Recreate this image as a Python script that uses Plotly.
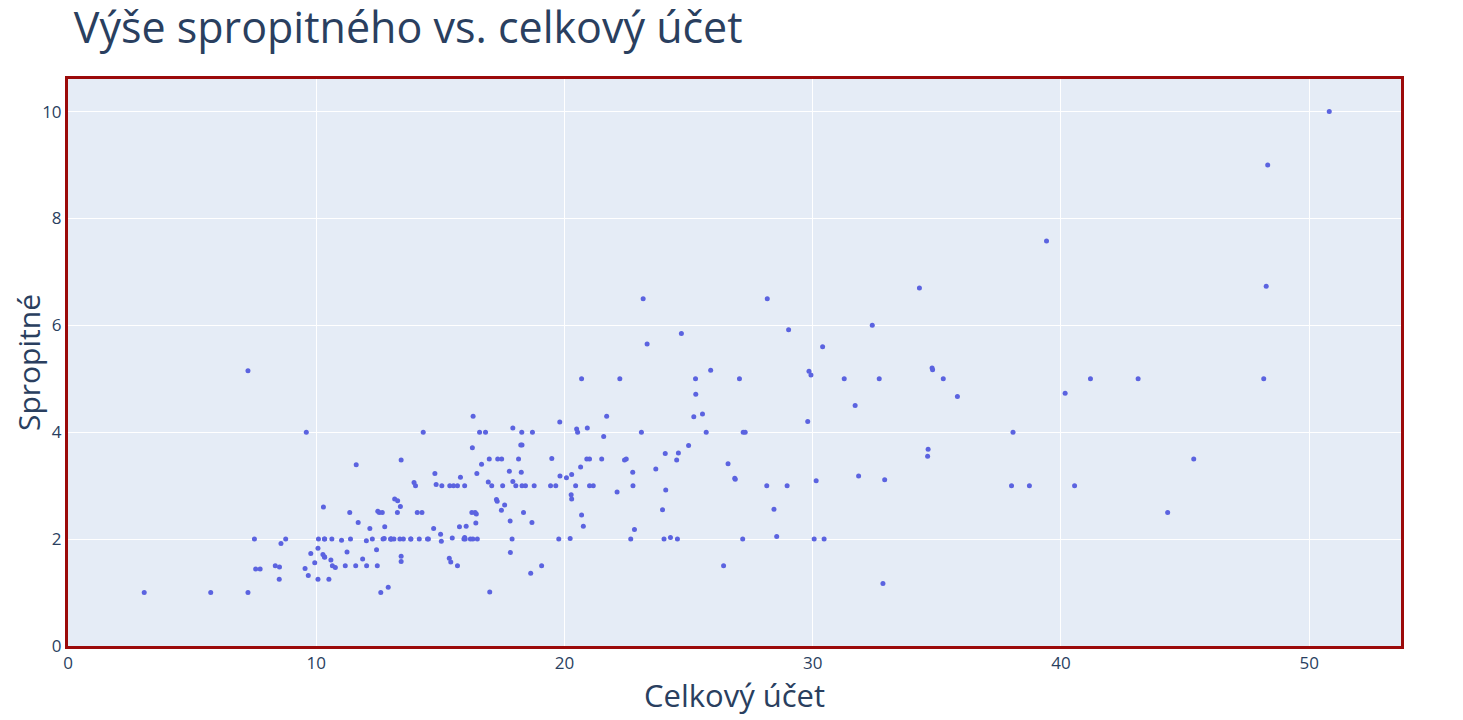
import plotly.graph_objects as go

# tips dataset: total bill and tip
total_bill = [16.99, 10.34, 21.01, 23.68, 24.59, 25.29, 8.77, 26.88, 15.04, 14.78,
              10.27, 35.26, 15.42, 18.43, 14.83, 21.58, 10.33, 16.29, 16.97, 20.65,
              17.92, 20.29, 15.77, 39.42, 19.82, 17.81, 13.37, 12.69, 21.70, 19.65,
              9.55, 18.35, 15.06, 20.69, 17.78, 24.06, 16.31, 16.93, 18.69, 31.27,
              16.04, 17.46, 13.94, 9.68, 30.40, 18.29, 22.23, 32.40, 28.55, 18.04,
              12.54, 10.29, 34.81, 9.94, 25.56, 19.49, 38.01, 26.41, 11.24, 48.27,
              20.29, 13.81, 11.02, 18.29, 17.59, 20.08, 16.45, 3.07, 20.23, 15.01,
              12.02, 17.07, 26.86, 25.28, 14.73, 10.51, 17.92, 27.20, 22.76, 17.29,
              19.44, 16.66, 10.07, 32.68, 15.98, 34.83, 13.03, 18.28, 24.71, 21.16,
              28.97, 22.49, 5.75, 16.32, 22.75, 40.17, 27.28, 12.03, 21.01, 12.46,
              11.35, 15.38, 44.30, 22.42, 20.92, 15.36, 20.49, 25.21, 18.24, 14.31,
              14.00, 7.25, 38.07, 23.95, 25.71, 17.31, 29.93, 10.65, 12.43, 24.08,
              11.69, 13.42, 14.26, 15.95, 12.48, 29.80, 8.52, 14.52, 11.38, 22.82,
              19.08, 20.27, 11.17, 12.26, 18.26, 8.51, 10.33, 14.15, 16.00, 13.16,
              17.47, 34.30, 41.19, 27.05, 16.43, 8.35, 18.64, 11.87, 9.78, 7.51,
              14.07, 13.13, 17.26, 24.55, 19.77, 29.85, 48.17, 25.00, 13.39, 16.49,
              21.50, 12.66, 16.21, 13.81, 17.51, 24.52, 20.76, 31.71, 10.59, 10.63,
              50.81, 15.81, 7.25, 31.85, 16.82, 32.90, 17.89, 14.48, 9.60, 34.63,
              34.65, 23.33, 45.35, 23.17, 40.55, 20.69, 20.90, 30.46, 18.15, 23.10,
              15.69, 19.81, 28.44, 15.48, 16.58, 7.56, 10.34, 43.11, 13.00, 13.51,
              18.71, 12.74, 13.00, 16.40, 20.53, 16.47, 26.59, 38.73, 24.27, 12.76,
              30.06, 25.89, 48.33, 13.27, 28.17, 12.90, 28.15, 11.59, 7.74, 30.14,
              12.16, 13.42, 8.58, 15.98, 13.42, 16.27, 10.09, 20.45, 13.28, 22.12,
              24.01, 15.69, 11.61, 10.77, 15.53, 10.07, 12.60, 32.83, 35.83, 29.03,
              27.18, 22.67, 17.82, 18.78]

tip = [1.01, 1.66, 3.50, 3.31, 3.61, 4.71, 2.00, 3.12, 1.96, 3.23,
       1.71, 5.00, 1.57, 3.00, 3.02, 3.92, 1.67, 3.71, 3.50, 3.35,
       4.08, 2.75, 2.23, 7.58, 3.18, 2.34, 2.00, 2.00, 4.30, 3.00,
       1.45, 2.50, 3.00, 2.45, 3.27, 3.60, 2.00, 3.07, 2.31, 5.00,
       2.24, 2.54, 3.06, 1.32, 5.60, 3.00, 5.00, 6.00, 2.05, 3.00,
       2.50, 2.60, 5.20, 1.56, 4.34, 3.51, 3.00, 1.50, 1.76, 6.73,
       3.21, 2.00, 1.98, 3.76, 2.64, 3.15, 2.47, 1.00, 2.01, 2.09,
       1.97, 3.00, 3.14, 5.00, 2.20, 1.25, 3.08, 4.00, 3.00, 2.71,
       3.00, 3.40, 1.83, 5.00, 2.03, 5.17, 2.00, 4.00, 5.85, 3.00,
       3.00, 3.50, 1.00, 4.30, 3.25, 4.73, 4.00, 1.50, 3.00, 1.50,
       2.50, 3.00, 2.50, 3.48, 4.08, 1.64, 4.06, 4.29, 3.76, 4.00,
       3.00, 1.00, 4.00, 2.55, 4.00, 3.50, 5.07, 1.50, 1.80, 2.92,
       2.31, 1.68, 2.50, 2.00, 2.52, 4.20, 1.48, 2.00, 2.00, 2.18,
       1.50, 2.83, 1.50, 2.00, 3.25, 1.25, 2.00, 2.00, 2.00, 2.75,
       3.50, 6.70, 5.00, 5.00, 2.30, 1.50, 1.36, 1.63, 1.73, 2.00,
       2.50, 2.00, 2.74, 2.00, 2.00, 5.14, 5.00, 3.75, 2.61, 2.00,
       3.50, 2.50, 2.00, 2.00, 3.00, 3.48, 2.24, 4.50, 1.61, 2.00,
       10.00, 3.16, 5.15, 3.18, 4.00, 3.11, 2.00, 2.00, 4.00, 3.55,
       3.68, 5.65, 3.50, 6.50, 3.00, 5.00, 3.50, 2.00, 3.50, 4.00,
       1.50, 4.19, 2.56, 2.02, 4.00, 1.44, 2.00, 5.00, 2.00, 2.00,
       4.00, 2.01, 2.00, 2.50, 4.00, 3.23, 3.41, 3.00, 2.03, 2.23,
       2.00, 5.16, 9.00, 2.50, 6.50, 1.10, 3.00, 1.50, 1.44, 3.09,
       2.20, 3.48, 1.92, 3.00, 1.58, 2.50, 2.00, 3.00, 2.72, 2.88,
       2.00, 3.00, 3.39, 1.47, 3.00, 1.25, 1.00, 1.17, 4.67, 5.92,
       2.00, 2.00, 1.75, 3.00]

fig = go.Figure(go.Scatter(
    x=total_bill, y=tip, mode="markers",
    marker=dict(color="#5b63e0", size=5),
))

fig.update_layout(
    template="plotly",
    width=1463, height=720,
    margin=dict(l=60, r=70, t=71, b=82),
    title=dict(text="Výše spropitného vs. celkový účet", x=0.045, xanchor="left",
               yref="container", y=0.973, yanchor="middle",
               font=dict(size=43, color="#2a3f5f")),
    font=dict(family="Open Sans", color="#2a3f5f"),
    showlegend=False,
)
fig.update_xaxes(range=[0, 53.7], title=dict(text="Celkový účet", font=dict(size=31), standoff=12),
                 tickfont=dict(size=17), showline=True, mirror=True, automargin=False,
                 linecolor="#9b0a0a", linewidth=3, zeroline=False, ticklen=0)
fig.update_yaxes(range=[0, 10.61], title=dict(text="Spropitné", font=dict(size=30), standoff=2),
                 tickfont=dict(size=17), showline=True, mirror=True, automargin=False,
                 linecolor="#9b0a0a", linewidth=3, zeroline=False, ticklen=0)

fig.write_html("out.html")
